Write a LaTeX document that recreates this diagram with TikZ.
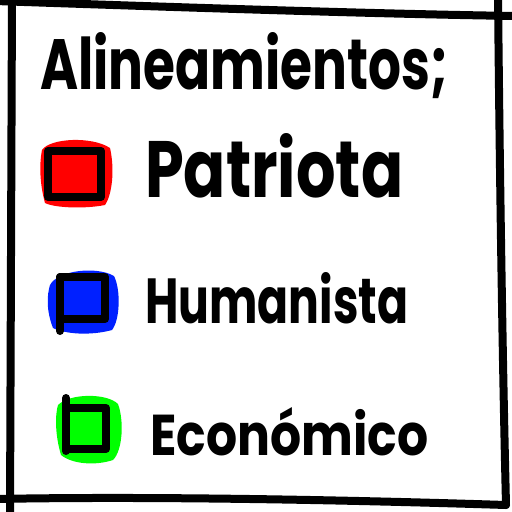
\documentclass[tikz,border=0pt]{standalone}
\usepackage{fontspec}
\setmainfont{Poppins}
\usepackage{graphicx}
\tikzset{
  frame/.style={line width=8pt, line cap=round, black},
  box/.style={line width=8pt, line cap=round, line join=round, black},
  label/.style={anchor=base west, inner sep=0pt, font=\bfseries},
}
\definecolor{pred}{RGB}{255,0,0}
\definecolor{pblue}{RGB}{0,32,255}
\definecolor{pgreen}{RGB}{0,255,0}
\begin{document}
\begin{tikzpicture}[x=1pt, y=-1pt]
\useasboundingbox (0,0) rectangle (512,512);
\fill[white] (0,0) rectangle (512,512);
% frame
\coordinate (tl) at (-5,1);
\coordinate (tr) at (517,16);
\draw[frame] (tl) .. controls (200,8) and (380,14) .. (tr);
\coordinate (lt) at (12,-5);
\coordinate (lb) at (10,517);
\draw[frame] (lt) -- (lb);
\coordinate (rt) at (498,-5);
\coordinate (rb) at (506,505);
\draw[frame] (rt) .. controls (500,200) and (503,380) .. (rb);
\coordinate (bl) at (-5,499);
\draw[frame] (bl) .. controls (150,496) and (350,500) .. (rb);
% title
\node[label] (title) at (40,89) {\resizebox{408pt}{57pt}{Alineamientos;}};
% red
\fill[pred] (42,150) .. controls (50,138) and (92,136) .. (110,148)
  .. controls (115,170) and (112,195) .. (105,205)
  .. controls (85,209) and (55,208) .. (45,203)
  .. controls (40,185) and (39,165) .. (42,150) -- cycle;
\draw[box, fill=pred] (48,151) -- (101,151) -- (101,197) -- (48,197) -- cycle;
\node (redbox) at (74.5,174) {};
\node[label] (patriota) at (145,197) {\resizebox{258pt}{64pt}{Patriota}};
% blue
\fill[pblue] (50,285) .. controls (58,270) and (97,266) .. (114,276)
  .. controls (121,290) and (120,320) .. (112,330)
  .. controls (90,336) and (65,334) .. (53,328)
  .. controls (46,310) and (47,295) .. (50,285) -- cycle;
\draw[box, fill=pblue] (60,277) -- (105,277) -- (105,319) -- (60,319) -- cycle;
\draw[box] (60,277) -- (60,331);
\node (bluebox) at (82.5,298) {};
\node[label] (humanista) at (145,323) {\resizebox{263pt}{51pt}{Humanista}};
% green
\fill[pgreen] (58,405) .. controls (70,393) and (107,393) .. (118,404)
  .. controls (124,420) and (123,450) .. (113,460)
  .. controls (95,466) and (72,464) .. (61,455)
  .. controls (55,435) and (55,415) .. (58,405) -- cycle;
\draw[box, fill=pgreen] (66,408) -- (106,408) -- (106,449) -- (66,449) -- cycle;
\draw[box] (66,398) -- (66,451);
\node (greenbox) at (86,428) {};
\node[label] (economico) at (150,455) {\resizebox{278pt}{48pt}{Económico}};
\end{tikzpicture}
\end{document}
